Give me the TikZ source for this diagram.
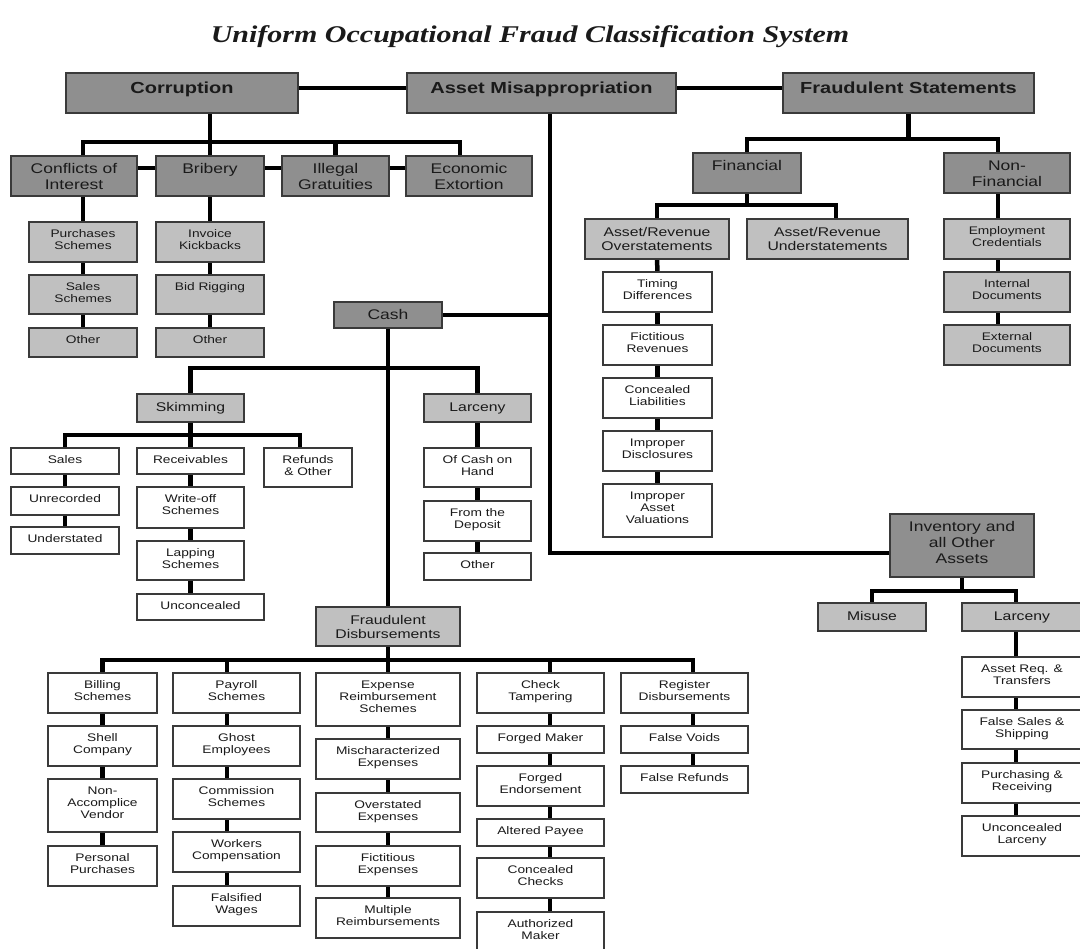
\documentclass[tikz,border=0pt]{standalone}
\usepackage{fontspec}
\setmainfont{Liberation Sans}[FakeStretch=1.25]
\newfontfamily\titlefont{Liberation Serif}[FakeStretch=1.25]
\usetikzlibrary{backgrounds}
\definecolor{dk}{HTML}{8F8F8F}
\definecolor{lt}{HTML}{C0C0C0}
\definecolor{bd}{HTML}{3A3A3A}
\definecolor{tx}{HTML}{1A1A1A}
\newcommand\lvla[1]{\fontsize{16}{18}\selectfont\bfseries\rule{0pt}{20.5pt}#1}
\newcommand\lvlb[1]{\fontsize{14}{16}\selectfont\rule{0pt}{18pt}#1}
\newcommand\lvlc[1]{\fontsize{12.6}{14}\selectfont\rule{0pt}{17.5pt}#1}
\newcommand\lvld[1]{\fontsize{11}{12}\selectfont\rule{0pt}{15.3pt}#1}
\newcommand\mybox[8]{%
 \pgfmathsetmacro\bw{#6-#4}\pgfmathsetmacro\bh{#7-#5}%
 \node[boxst,#1,minimum width=\bw pt,minimum height=\bh pt,anchor=north west] (#3) at (#4,#5)
 {\parbox[t][\bh pt][t]{\bw pt}{\centering\csname lvl#2\endcsname{#8}}};}
\tikzset{
 boxst/.style={draw=bd,line width=1.2pt,inner sep=0pt,outer sep=0pt,text=tx},
 dark/.style={fill=dk},
 light/.style={fill=lt},
 plain/.style={fill=white},
 conn/.style={draw=black,line width=4.5pt,line cap=rect},
 topconn/.style={draw=black,line width=3.3pt,line cap=rect}
}
\begin{document}
\begin{tikzpicture}[x=1pt,y=-1pt]
\useasboundingbox (0,0) rectangle (1080,949);
\node[font={\titlefont\fontsize{24}{26}\selectfont\bfseries\itshape},anchor=base,text=tx] (title) at (530,43) {Uniform Occupational Fraud Classification System};
% level 1
\mybox{dark}{a}{corr}{66}{73}{298}{113}{Corruption}
\mybox{dark}{a}{am}{407}{73}{676}{113}{Asset Misappropriation}
\mybox{dark}{a}{fs}{783}{73}{1034}{113}{Fraudulent Statements}
% level 2
\mybox{dark}{b}{coi}{11}{156}{137}{196}{Conflicts of\\Interest}
\mybox{dark}{b}{brib}{156}{156}{264}{196}{Bribery}
\mybox{dark}{b}{ill}{282}{156}{389}{196}{Illegal\\Gratuities}
\mybox{dark}{b}{eco}{406}{156}{532}{196}{Economic\\Extortion}
\mybox{dark}{b}{fin}{693}{153}{801}{193}{Financial}
\mybox{dark}{b}{nonfin}{944}{153}{1070}{193}{Non-\\Financial}
\mybox{dark}{b}{cash}{334}{302}{442}{328}{Cash}
\mybox{dark}{b}{inv}{890}{514}{1034}{577}{Inventory and\\all Other\\Assets}
% level 3
\mybox{light}{c}{skim}{137}{394}{244}{422}{Skimming}
\mybox{light}{c}{larc}{424}{394}{531}{422}{Larceny}
\mybox{light}{c}{fd}{316}{607}{460}{646}{Fraudulent\\Disbursements}
\mybox{light}{c}{aro}{585}{219}{729}{259}{Asset/Revenue\\Overstatements}
\mybox{light}{c}{aru}{747}{219}{908}{259}{Asset/Revenue\\Understatements}
\mybox{light}{c}{mis}{818}{603}{926}{631}{Misuse}
\mybox{light}{c}{larc2}{962}{603}{1082}{631}{Larceny}
% corruption leaves
\mybox{light}{d}{ps}{29}{222}{137}{262}{Purchases\\Schemes}
\mybox{light}{d}{ss}{29}{275}{137}{314}{Sales\\Schemes}
\mybox{light}{d}{o1}{29}{328}{137}{357}{Other}
\mybox{light}{d}{ik}{156}{222}{264}{262}{Invoice\\Kickbacks}
\mybox{light}{d}{br}{156}{275}{264}{314}{Bid Rigging}
\mybox{light}{d}{o2}{156}{328}{264}{357}{Other}
% non-financial leaves
\mybox{light}{d}{ec}{944}{219}{1070}{259}{Employment\\Credentials}
\mybox{light}{d}{id}{944}{272}{1070}{312}{Internal\\Documents}
\mybox{light}{d}{ed}{944}{325}{1070}{365}{External\\Documents}
% overstatements
\mybox{plain}{d}{td}{603}{272}{712}{312}{Timing\\Differences}
\mybox{plain}{d}{fr}{603}{325}{712}{365}{Fictitious\\Revenues}
\mybox{plain}{d}{cl}{603}{378}{712}{418}{Concealed\\Liabilities}
\mybox{plain}{d}{idis}{603}{431}{712}{471}{Improper\\Disclosures}
\mybox{plain}{d}{iav}{603}{484}{712}{537}{Improper\\Asset\\Valuations}
% skimming
\mybox{plain}{d}{sales}{11}{448}{119}{474}{Sales}
\mybox{plain}{d}{unrec}{11}{487}{119}{515}{Unrecorded}
\mybox{plain}{d}{under}{11}{527}{119}{554}{Understated}
\mybox{plain}{d}{recv}{137}{448}{244}{474}{Receivables}
\mybox{plain}{d}{wo}{137}{487}{244}{528}{Write-off\\Schemes}
\mybox{plain}{d}{lap}{137}{541}{244}{580}{Lapping\\Schemes}
\mybox{plain}{d}{uncon}{137}{594}{264}{620}{Unconcealed}
\mybox{plain}{d}{ref}{264}{448}{352}{487}{Refunds\\\& Other}
% larceny
\mybox{plain}{d}{och}{424}{448}{531}{487}{Of Cash on\\Hand}
\mybox{plain}{d}{ftd}{424}{501}{531}{541}{From the\\Deposit}
\mybox{plain}{d}{o3}{424}{553}{531}{580}{Other}
% disbursements
\mybox{plain}{d}{bill}{48}{673}{157}{713}{Billing\\Schemes}
\mybox{plain}{d}{shell}{48}{726}{157}{766}{Shell\\Company}
\mybox{plain}{d}{nav}{48}{779}{157}{832}{Non-\\Accomplice\\Vendor}
\mybox{plain}{d}{pp}{48}{846}{157}{886}{Personal\\Purchases}
\mybox{plain}{d}{pay}{173}{673}{300}{713}{Payroll\\Schemes}
\mybox{plain}{d}{ghost}{173}{726}{300}{766}{Ghost\\Employees}
\mybox{plain}{d}{comm}{173}{779}{300}{819}{Commission\\Schemes}
\mybox{plain}{d}{wc}{173}{832}{300}{872}{Workers\\Compensation}
\mybox{plain}{d}{fw}{173}{886}{300}{926}{Falsified\\Wages}
\mybox{plain}{d}{ers}{316}{673}{460}{726}{Expense\\Reimbursement\\Schemes}
\mybox{plain}{d}{me}{316}{739}{460}{779}{Mischaracterized\\Expenses}
\mybox{plain}{d}{oe}{316}{793}{460}{832}{Overstated\\Expenses}
\mybox{plain}{d}{fe}{316}{846}{460}{886}{Fictitious\\Expenses}
\mybox{plain}{d}{mr}{316}{898}{460}{938}{Multiple\\Reimbursements}
\mybox{plain}{d}{ct}{477}{673}{604}{713}{Check\\Tampering}
\mybox{plain}{d}{fm}{477}{726}{604}{753}{Forged Maker}
\mybox{plain}{d}{fen}{477}{766}{604}{806}{Forged\\Endorsement}
\mybox{plain}{d}{ap}{477}{819}{604}{846}{Altered Payee}
\mybox{plain}{d}{cc}{477}{858}{604}{898}{Concealed\\Checks}
\mybox{plain}{d}{amk}{477}{912}{604}{960}{Authorized\\Maker}
\mybox{plain}{d}{rd}{621}{673}{748}{713}{Register\\Disbursements}
\mybox{plain}{d}{fv}{621}{726}{748}{753}{False Voids}
\mybox{plain}{d}{frf}{621}{766}{748}{793}{False Refunds}
% inventory larceny
\mybox{plain}{d}{arq}{962}{657}{1082}{697}{Asset Req. \&\\Transfers}
\mybox{plain}{d}{fss}{962}{710}{1082}{749}{False Sales \&\\Shipping}
\mybox{plain}{d}{pr}{962}{763}{1082}{803}{Purchasing \&\\Receiving}
\mybox{plain}{d}{ul}{962}{816}{1082}{856}{Unconcealed\\Larceny}
% connectors
\coordinate (cbR) at (460,142);
\coordinate (fsb) at (998,139);
\coordinate (finb) at (836,205);
\coordinate (amc) at (550,553);
\coordinate (cbus) at (0,368);
\coordinate (sbus) at (300,435);
\coordinate (fbus) at (693,660);
\coordinate (payx) at (227,0);
\coordinate (ibus) at (1016,591);
\begin{scope}[on background layer]
\draw[topconn] ([yshift=5pt]corr.east) -- ([yshift=5pt]am.west);
\draw[topconn] ([yshift=5pt]am.east) -- ([yshift=5pt]fs.west);
\draw[conn] (corr.south -| brib.north) -- (brib.north);
\draw[conn] (ps.north |- coi.north) |- (cbR) -- (cbR |- eco.north);
\draw[conn] (ill.north) -- (ill.north |- cbR);
\foreach \a/\b in {coi/brib,brib/ill,ill/eco}
  \draw[conn] ([yshift=8pt]\a.east) -- ([yshift=8pt]\b.west);
\draw[conn] (coi.south -| ps.north) -- (ps.north);
\foreach \a/\b in {ps/ss,ss/o1,brib/ik,ik/br,br/o2,aro/td,td/fr,fr/cl,cl/idis,idis/iav,
  sales/unrec,unrec/under,skim/recv,recv/wo,wo/lap,larc/och,och/ftd,ftd/o3,
  cash/fd,fd/ers,bill/shell,shell/nav,nav/pp,ers/me,me/oe,oe/fe,fe/mr}
  \draw[conn] (\a.south) -- (\b.north);
% fraudulent statements
\draw[conn] (fs.south) -- (fs.south |- fsb);
\draw[conn] (fin.north) |- (fsb) -- (fsb |- nonfin.north);
\foreach \a/\b in {nonfin/ec,ec/id,id/ed}
  \draw[conn] (fsb |- \a.south) -- (fsb |- \b.north);
\draw[conn] (fin.south) -- (fin.south |- finb);
\draw[conn] (aro.north) |- (finb) -- (finb |- aru.north);
% asset misappropriation
\draw[conn] (am.south -| amc) -- (amc) -- (amc -| inv.west);
\draw[conn] (cash.east) -- (cash.east -| amc);
% cash
\draw[conn] (skim.north) |- (cbus -| larc.north) -- (larc.north);
\draw[conn] (sales.north) |- (sbus) -- (sbus |- ref.north);
\draw[conn] (lap.south) -- (lap.south |- uncon.north);
% disbursements
\draw[conn] (bill.north) |- (fbus) -- (fbus |- rd.north);
\draw[conn] (payx |- fbus) -- (payx |- pay.north);
\draw[conn] (amc |- fbus) -- (amc |- ct.north);
\foreach \a/\b in {pay/ghost,ghost/comm,comm/wc,wc/fw}
  \draw[conn] (payx |- \a.south) -- (payx |- \b.north);
\foreach \a/\b in {ct/fm,fm/fen,fen/ap,ap/cc,cc/amk}
  \draw[conn] (amc |- \a.south) -- (amc |- \b.north);
\foreach \a/\b in {rd/fv,fv/frf}
  \draw[conn] (fbus |- \a.south) -- (fbus |- \b.north);
% inventory
\draw[conn] (inv.south) -- (inv.south |- ibus);
\draw[conn] (mis.north) |- (ibus) -- (ibus |- larc2.north);
\foreach \a/\b in {larc2/arq,arq/fss,fss/pr,pr/ul}
  \draw[conn] (ibus |- \a.south) -- (ibus |- \b.north);
\end{scope}
\end{tikzpicture}
\end{document}
